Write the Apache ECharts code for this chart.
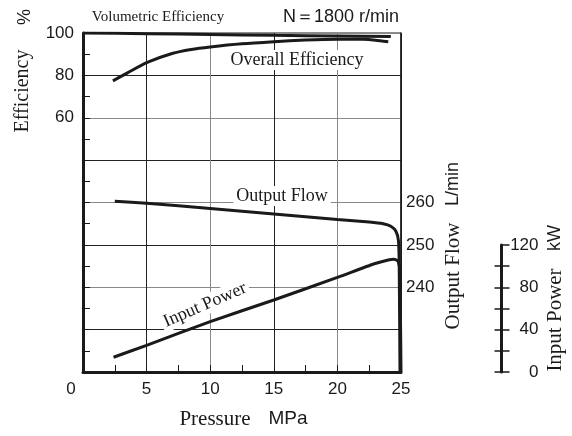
<!DOCTYPE html>
<html>
<head>
<meta charset="utf-8">
<script src="https://cdn.jsdelivr.net/npm/echarts@6/dist/echarts.min.js"></script>
<style>
  html, body { margin: 0; padding: 0; background: #fff; }
  #main { width: 572px; height: 436px; }
</style>
</head>
<body>
<div id="main"></div>
<script>
// values, [pressure MPa, value]
const volEfficiency = [[0, 100], [5, 99.7], [10, 99.3], [15, 98.9], [20, 98.6], [24.2, 98.3]];
const overallEfficiency = [[2.35, 77.4], [3.5, 81.2], [5, 86.0], [7, 90.3], [8.5, 92.2], [10, 93.4],
    [12.5, 94.9], [15, 95.9], [17.5, 96.7], [20, 97.1], [22, 97.0], [23, 96.6], [24, 95.9]];
const outputFlow = [[2.5, 260.3], [5, 259.8], [10, 258.6], [15, 257.3], [20, 256.0], [22.5, 255.4],
    [23.6, 255.0], [24.2, 254.4], [24.6, 253.2], [24.8, 251.0], [24.86, 245], [24.92, 220]];
const inputPower = [[2.4, 13.9], [5, 25.2], [10, 47.5], [15, 68.0], [20, 89.3], [22.9, 102.2],
    [24, 105.8], [24.45, 106.4], [24.75, 104.8], [24.9, 95], [25, 0]];

const pressureTicks = [0, 5, 10, 15, 20, 25];
const effLabels = [60, 80, 100];
const flowLabels = [240, 250, 260];
const powerLabels = [0, 40, 80, 120];
const powerTicksLeft = [0, 20, 40, 60, 80, 100];

const SERIF = 'Liberation Serif';
const SANS = 'Liberation Sans';
const INK = '#1a1a1a';

function lineSeries(name, yIndex, data) {
    return {
        name: name,
        type: 'line',
        xAxisIndex: 0,
        yAxisIndex: yIndex,
        data: data,
        showSymbol: false,
        smooth: 0.2,
        lineStyle: { color: INK, width: 3 },
        z: 5
    };
}

// helper for plain text placed on the chart (centred on x,y)
function label(text, x, y, font, size, rot, bg) {
    return {
        type: 'text',
        x: x, y: y,
        rotation: rot || 0,
        z: 100,
        style: {
            text: text,
            x: 0, y: 0,
            fontFamily: font,
            fontSize: size,
            fill: INK,
            align: 'center',
            verticalAlign: 'middle',
            backgroundColor: bg ? '#fff' : null,
            padding: bg ? [1, 3] : 0
        }
    };
}

let option = {
    animation: false,
    backgroundColor: '#fff',
    grid: [
        { left: 83, right: 171, top: 33, bottom: 64, show: true, borderColor: INK, borderWidth: 1,
          containLabel: false, outerBoundsMode: 'none' },
        // separate strip for the Input Power scale
        { left: 499, right: 70.5, top: 245, bottom: 64, containLabel: false, outerBoundsMode: 'none' }
    ],
    xAxis: [
        {
            gridIndex: 0, type: 'value', min: 0, max: 25, interval: 5,
            axisLine: { onZero: false, lineStyle: { color: INK, width: 3 } },
            axisTick: { inside: true, length: 7, lineStyle: { color: INK } },
            minorTick: { show: true, splitNumber: 2, length: 7, lineStyle: { color: INK, width: 1 } },
            splitLine: { show: true, lineStyle: { color: ['#888', '#222'], width: 1 } },
            axisLabel: {
                margin: 9, fontFamily: SANS, fontSize: 17, color: INK,
                customValues: pressureTicks,
                formatter: function (v) { return v === 0 ? '{z|0}' : String(v); },
                rich: { z: { fontFamily: SANS, fontSize: 17, color: INK, padding: [0, 24, 0, 0] } }
            }
        },
        { gridIndex: 1, type: 'value', show: false, min: 0, max: 1 }
    ],
    yAxis: [
        {   // Efficiency %
            gridIndex: 0, type: 'value', position: 'left', min: -60, max: 100, interval: 20,
            axisLine: { show: true, onZero: false, lineStyle: { color: INK, width: 3 } },
            axisTick: { show: true, inside: true, length: 7, lineStyle: { color: INK } },
            minorTick: { show: true, splitNumber: 2, length: 7, lineStyle: { color: INK, width: 1 } },
            splitLine: { show: true, lineStyle: { color: ['#888', '#222'], width: 1 } },
            axisLabel: { customValues: effLabels, margin: 9, fontFamily: SANS, fontSize: 17, color: INK }
        },
        {   // Output Flow L/min
            gridIndex: 0, type: 'value', position: 'right', min: 220, max: 300, interval: 10,
            axisLine: { show: true, onZero: false, lineStyle: { color: INK, width: 1.5 } },
            axisTick: { show: false },
            splitLine: { show: false },
            axisLabel: { customValues: flowLabels, margin: 5, fontFamily: SANS, fontSize: 17, color: INK }
        },
        {   // Input Power kW, scaled to the plot height (hidden)
            gridIndex: 0, type: 'value', position: 'right', min: 0, max: 320, show: false
        },
        {   // visible Input Power scale
            gridIndex: 1, type: 'value', position: 'right', min: 0, max: 120, interval: 20,
            axisLine: { show: true, onZero: false, lineStyle: { color: INK, width: 3 } },
            axisTick: { show: true, inside: false, length: 8, lineStyle: { color: INK, width: 1.5 } },
            splitLine: { show: false },
            axisLabel: { customValues: powerLabels, align: 'right', margin: 37, fontFamily: SANS, fontSize: 17, color: INK }
        },
        {   // ticks on the other side of the same scale
            gridIndex: 1, type: 'value', position: 'right', min: 0, max: 120, interval: 20,
            axisLine: { show: false, onZero: false },
            axisTick: { show: true, inside: true, length: 7, customValues: powerTicksLeft, lineStyle: { color: INK, width: 1.5 } },
            splitLine: { show: false },
            axisLabel: { show: false }
        }
    ],
    series: [
        lineSeries('Volumetric Efficiency', 0, volEfficiency),
        lineSeries('Overall Efficiency', 0, overallEfficiency),
        lineSeries('Output Flow', 1, outputFlow),
        lineSeries('Input Power', 2, inputPower)
    ],
    graphic: [
        label('Volumetric Efficiency', 158, 17, SERIF, 15),
        label('N\uFF1D1800 r/min', 341, 17, SANS, 18),
        label('Overall Efficiency', 297, 60, SERIF, 18, 0, true),
        label('Output Flow', 282, 196, SERIF, 18, 0, true),
        label('Input Power', 205, 305, SERIF, 18, 23.5 * Math.PI / 180, true),
        // axis names
        label('Efficiency', 23, 91, SERIF, 20, Math.PI / 2),
        label('%', 25, 17, SANS, 18, Math.PI / 2),
        label('Output Flow', 453, 276, SERIF, 21, Math.PI / 2),
        label('L/min', 453, 184, SANS, 18, Math.PI / 2),
        label('Input Power', 555, 320, SERIF, 21, Math.PI / 2),
        label('kW', 555, 238, SANS, 18, Math.PI / 2),
        label('Pressure', 215, 419, SERIF, 21),
        label('MPa', 288, 419, SANS, 19)
    ]
};

let chart = echarts.init(document.getElementById('main'), null, { renderer: 'canvas' });
chart.setOption(option);
</script>
</body>
</html>
